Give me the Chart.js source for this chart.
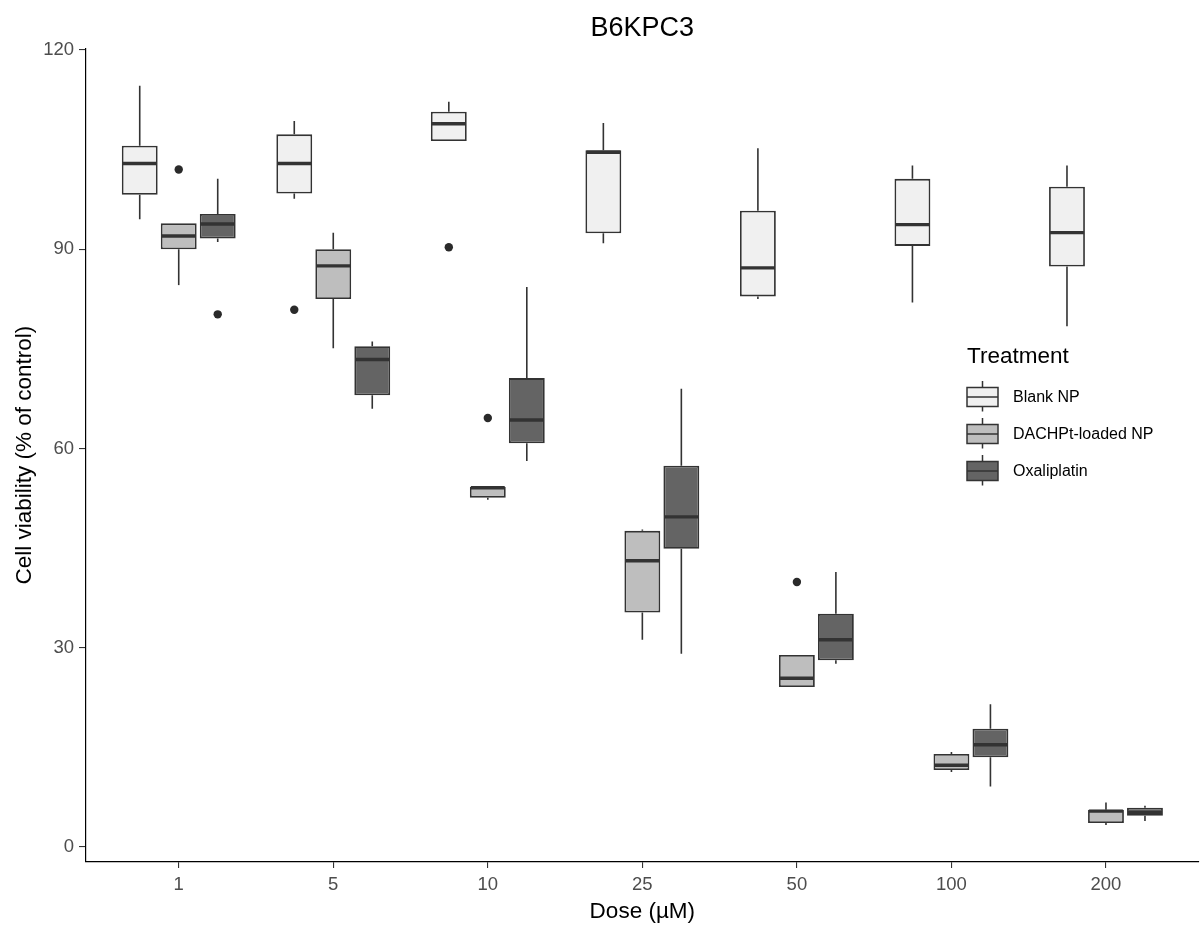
<!DOCTYPE html>
<html>
<head>
<meta charset="utf-8">
<title>B6KPC3</title>
<script src="https://cdn.jsdelivr.net/npm/chart.js@4"></script>
<style>
  html, body { margin: 0; padding: 0; background: #fff; }
  #wrap { width: 1200px; height: 927px; }
</style>
</head>
<body>
<div id="wrap"><canvas id="boxChart"></canvas></div>
<script>
const doses = ['1', '5', '10', '25', '50', '100', '200'];
const seriesNames = ['Blank NP', 'DACHPt-loaded NP', 'Oxaliplatin'];
const yTicks = [0, 30, 60, 90, 120];

// Blank NP (whisker ends, quartiles, median, outliers)
const blankLow    = [94.5, 97.6, 106.3, 90.9, 82.5, 82.0, 78.4];
const blankQ1     = [98.2, 98.4, 106.3, 92.4, 82.9, 90.5, 87.4];
const blankMedian = [102.9, 102.9, 108.9, 104.6, 87.2, 93.7, 92.5];
const blankQ3     = [105.6, 107.3, 110.7, 104.9, 95.8, 100.6, 99.4];
const blankHigh   = [114.6, 109.3, 112.2, 109.0, 105.2, 102.6, 102.6];
const blankOut    = [[], [80.9], [90.3], [], [], [], []];

// DACHPt-loaded NP
const dachLow    = [84.6, 75.1, 52.3, 31.2, 24.1, 11.3, 3.3];
const dachQ1     = [90.0, 82.5, 52.6, 35.3, 24.1, 11.6, 3.6];
const dachMedian = [92.0, 87.5, 54.1, 43.1, 25.4, 12.3, 5.4];
const dachQ3     = [93.9, 90.0, 54.2, 47.6, 28.9, 14.0, 5.6];
const dachHigh   = [93.9, 92.5, 54.2, 47.8, 28.9, 14.3, 6.7];
const dachOut    = [[102.0], [], [64.6], [], [39.9], [], []];

// Oxaliplatin
const oxaLow    = [91.1, 66.0, 58.1, 29.1, 27.6, 9.1, 3.9];
const oxaQ1     = [91.6, 68.0, 60.8, 44.9, 28.1, 13.5, 4.7];
const oxaMedian = [93.8, 73.4, 64.3, 49.7, 31.2, 15.4, 5.2];
const oxaQ3     = [95.3, 75.4, 70.6, 57.4, 35.1, 17.8, 5.9];
const oxaHigh   = [100.6, 76.1, 84.3, 69.0, 41.4, 21.5, 6.2];
const oxaOut    = [[80.2], [], [], [], [], [], []];

const fills = ['#f0f0f0', '#bebebe', '#646464'];
const lineCol = '#333333';
const fontFamily = '"Liberation Sans", Arial, Helvetica, sans-serif';

const series = [
  { low: blankLow, q1: blankQ1, med: blankMedian, q3: blankQ3, high: blankHigh, out: blankOut },
  { low: dachLow, q1: dachQ1, med: dachMedian, q3: dachQ3, high: dachHigh, out: dachOut },
  { low: oxaLow, q1: oxaQ1, med: oxaMedian, q3: oxaQ3, high: oxaHigh, out: oxaOut }
];

Chart.defaults.font.family = fontFamily;

// whiskers, medians and outlier dots on top of the floating bars
const boxExtras = {
  id: 'boxExtras',
  afterDatasetsDraw(chart) {
    const ctx = chart.ctx;
    const y = chart.scales.y;
    ctx.save();
    ctx.strokeStyle = lineCol;
    ctx.fillStyle = '#2a2a2a';
    series.forEach((s, k) => {
      chart.getDatasetMeta(k).data.forEach((bar, i) => {
        const half = bar.width / 2;
        ctx.lineWidth = 1.6;
        ctx.beginPath();
        ctx.moveTo(bar.x, y.getPixelForValue(s.high[i]));
        ctx.lineTo(bar.x, y.getPixelForValue(s.q3[i]));
        ctx.moveTo(bar.x, y.getPixelForValue(s.q1[i]));
        ctx.lineTo(bar.x, y.getPixelForValue(s.low[i]));
        ctx.stroke();

        const ym = y.getPixelForValue(s.med[i]);
        ctx.lineWidth = 3.4;
        ctx.beginPath();
        ctx.moveTo(bar.x - half + 1, ym);
        ctx.lineTo(bar.x + half - 1, ym);
        ctx.stroke();

        s.out[i].forEach(v => {
          ctx.beginPath();
          ctx.arc(bar.x, y.getPixelForValue(v), 4.2, 0, Math.PI * 2);
          ctx.fill();
        });
      });
    });
    ctx.restore();
  },
  afterDraw(chart) {
    // legend inside the panel, ggplot style
    const ctx = chart.ctx;
    ctx.save();
    ctx.fillStyle = '#000';
    ctx.textBaseline = 'middle';
    ctx.textAlign = 'left';
    ctx.font = '22.5px ' + fontFamily;
    ctx.fillText('Treatment', 967, 357);

    const left = 967, w = 31;
    seriesNames.forEach((name, k) => {
      const cy = 397 + k * 37;
      const cx = left + w / 2;
      ctx.strokeStyle = lineCol;
      ctx.lineWidth = 1.5;
      ctx.beginPath();
      ctx.moveTo(cx, cy - 16);
      ctx.lineTo(cx, cy - 9.5);
      ctx.moveTo(cx, cy + 9.5);
      ctx.lineTo(cx, cy + 14.5);
      ctx.stroke();
      ctx.fillStyle = fills[k];
      ctx.fillRect(left, cy - 9.5, w, 19);
      ctx.strokeRect(left, cy - 9.5, w, 19);
      ctx.beginPath();
      ctx.moveTo(left, cy);
      ctx.lineTo(left + w, cy);
      ctx.stroke();

      ctx.fillStyle = '#000';
      ctx.font = '16px ' + fontFamily;
      ctx.fillText(name, 1013, cy + 1);
    });
    ctx.restore();
  }
};

const ctx = document.getElementById('boxChart').getContext('2d');

new Chart(ctx, {
  type: 'bar',
  data: {
    datasets: series.map((s, k) => ({
      label: seriesNames[k],
      data: doses.map((d, i) => ({ x: i + 1, y: [s.q1[i], s.q3[i]] })),
      backgroundColor: fills[k],
      borderColor: lineCol,
      borderWidth: 1.8,
      borderSkipped: false,
      categoryPercentage: 0.757,
      barPercentage: 0.92
    }))
  },
  options: {
    responsive: true,
    maintainAspectRatio: false,
    animation: false,
    layout: { padding: { left: 0, right: 1.3, top: 0, bottom: 0 } },
    plugins: {
      legend: { display: false },
      tooltip: { enabled: false },
      title: {
        display: true,
        text: 'B6KPC3',
        color: '#000',
        fullSize: false,
        font: { size: 27, weight: 'normal' },
        padding: { top: 12, bottom: 4 }
      }
    },
    scales: {
      x: {
        type: 'linear',
        min: 0.4,
        max: 7.6,
        bounds: 'data',
        offset: false,
        afterBuildTicks: ax => { ax.ticks = doses.map((d, i) => ({ value: i + 1 })); },
        afterFit: ax => { ax.height = 65; },
        grid: { offset: false, drawOnChartArea: false, tickLength: 6, color: lineCol, lineWidth: 1.1 },
        border: { color: '#000', width: 1.2 },
        ticks: {
          color: '#4d4d4d',
          font: { size: 18.5 },
          padding: 5.5,
          maxRotation: 0,
          callback: v => doses[v - 1]
        },
        title: {
          display: true,
          text: 'Dose (µM)',
          color: '#000',
          font: { size: 22.5 },
          padding: { top: 0, bottom: 2 }
        }
      },
      y: {
        min: -2.26,
        max: 120.24,
        bounds: 'data',
        afterBuildTicks: ax => { ax.ticks = yTicks.map(v => ({ value: v })); },
        afterFit: ax => { ax.width = 86; },
        grid: { drawOnChartArea: false, tickLength: 7, color: lineCol, lineWidth: 1.1 },
        border: { color: '#000', width: 1.2 },
        ticks: { color: '#4d4d4d', font: { size: 18.5 }, padding: 5 },
        title: {
          display: true,
          text: 'Cell viability (% of control)',
          color: '#000',
          font: { size: 22.5 },
          padding: { top: 11.5, bottom: 0 }
        }
      }
    }
  },
  plugins: [boxExtras]
});
</script>
</body>
</html>
